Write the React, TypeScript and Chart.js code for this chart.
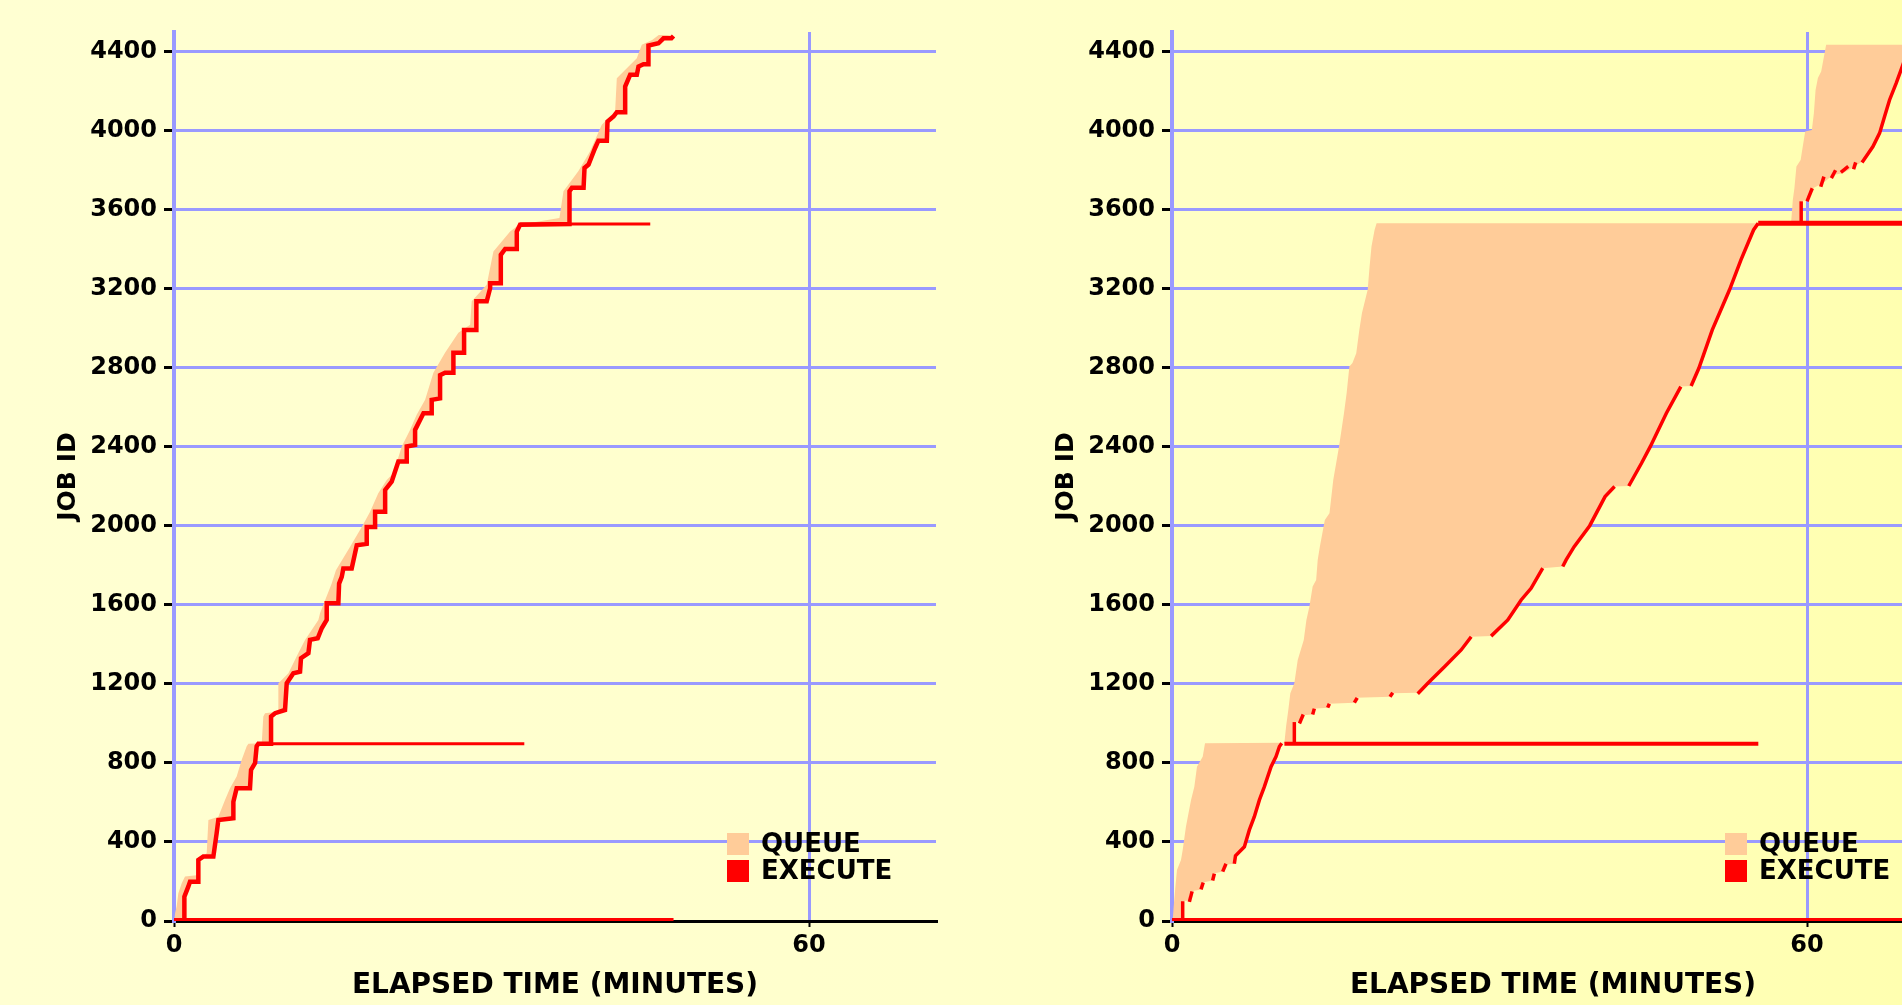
import React, { useEffect, useRef } from "react";
import Chart from "chart.js/auto";

type Pt = [number, number];

// ---------- axis values ----------
const X_MIN = 0;
const X_MAX = 72;
const X_TICKS = [0, 60];
const Y_MIN = 0;
const Y_MAX = 4500;
const Y_TICKS = [0, 400, 800, 1200, 1600, 2000, 2400, 2800, 3200, 3600, 4000, 4400];
const X_TITLE = "ELAPSED TIME (MINUTES)";
const Y_TITLE = "JOB ID";
const LEGEND_LABELS = ["QUEUE", "EXECUTE"];

// ---------- left panel (minutes, job id) ----------
const leftSubmit: Pt[] = [
  [0.03, 0], [0.1, 39], [0.25, 73], [0.41, 140], [0.73, 191], [1.04, 225], [2.14, 232], [2.3, 309],
  [3.09, 343], [3.25, 511], [4.19, 528], [4.82, 612], [5.29, 672], [5.92, 731], [6.4, 816], [6.87, 884],
  [7.03, 897], [8.29, 900], [8.44, 1035], [8.6, 1052], [9.86, 1060], [9.86, 1203], [10.18, 1220],
  [10.81, 1254], [11.75, 1356], [12.38, 1423], [13.64, 1524], [13.8, 1558], [14.1, 1600], [14.9, 1708],
  [15.3, 1775], [16.64, 1894], [17.74, 1995], [18.53, 2072], [19.3, 2165], [20.1, 2232], [20.73, 2266],
  [21.52, 2402], [22.3, 2486], [22.93, 2562], [23.73, 2638], [24.51, 2775], [25.61, 2877], [26.87, 2978],
  [27.98, 3018], [28.13, 3137], [29.55, 3220], [30.18, 3389], [31.76, 3490], [32.6, 3524], [36.42, 3558],
  [36.8, 3694], [38.2, 3795], [39.32, 3896], [40.42, 4031], [41.37, 4082], [41.68, 4097], [41.84, 4266],
  [43.73, 4367], [44.2, 4435], [45.18, 4460], [45.8, 4485], [46.6, 4485],
];

const leftStart: Pt[] = [
  [0.98, 0], [0.98, 123], [1.35, 174], [1.51, 199], [2.3, 199], [2.3, 309], [2.77, 326], [3.72, 326],
  [4.03, 444], [4.19, 511], [5.61, 520], [5.61, 604], [5.92, 672], [7.18, 672], [7.28, 765], [7.66, 799],
  [7.81, 884], [7.97, 897], [9.17, 897], [9.17, 1035], [9.55, 1052], [10.49, 1068], [10.65, 1203],
  [11.28, 1254], [11.91, 1262], [12.0, 1330], [12.7, 1356], [12.85, 1423], [13.58, 1431], [13.96, 1482],
  [14.43, 1524], [14.43, 1608], [15.53, 1608], [15.6, 1708], [15.85, 1742], [16.0, 1784], [16.79, 1784],
  [17.27, 1902], [18.21, 1909], [18.21, 1995], [19.0, 1995], [19.0, 2072], [19.95, 2072], [19.95, 2182],
  [20.57, 2224], [20.73, 2250], [21.2, 2326], [21.99, 2326], [21.99, 2402], [22.78, 2410], [22.78, 2486],
  [23.57, 2570], [24.35, 2570], [24.35, 2638], [25.14, 2645], [25.14, 2763], [25.61, 2775], [26.4, 2775],
  [26.4, 2877], [27.41, 2877], [27.41, 2992], [28.54, 2992], [28.54, 3119], [28.6, 3137], [29.55, 3137],
  [29.87, 3203], [29.87, 3228], [30.88, 3228], [30.88, 3372], [31.29, 3402], [32.39, 3402], [32.39, 3490],
  [32.7, 3524], [37.37, 3528], [37.37, 3694], [37.6, 3711], [38.7, 3711], [38.79, 3812], [39.17, 3829],
  [39.48, 3871], [39.79, 3913], [40.1, 3950], [40.9, 3950], [40.96, 4047], [41.53, 4072], [41.84, 4094],
  [42.63, 4094], [42.63, 4224], [43.1, 4283], [43.73, 4283], [43.89, 4325], [44.36, 4337], [44.83, 4337],
  [44.83, 4431], [45.78, 4443], [46.25, 4468], [47.0, 4468], [47.2, 4480],
];

const leftLongJobs: { pts: Pt[]; width: number }[] = [
  { pts: [[0, 0], [47.2, 0]], width: 6 },
  { pts: [[7.97, 897], [33.1, 897]], width: 3 },
  { pts: [[32.7, 3528], [45.0, 3528]], width: 3 },
];

// ---------- right panel (minutes, job id) ----------
const rightSubmitLow: Pt[] = [
  [0.06, 0], [0.16, 72], [0.32, 174], [0.47, 258], [0.85, 309], [1.01, 360], [1.32, 478], [1.8, 613],
  [2.11, 680], [2.36, 781], [2.9, 832], [3.12, 900], [10.62, 902], [10.78, 984], [10.99, 1068],
  [11.18, 1153], [11.56, 1203], [11.88, 1321], [12.45, 1423], [12.7, 1524], [12.98, 1591], [13.29, 1693],
  [13.62, 1726], [13.77, 1828], [13.97, 1895], [14.44, 2030], [14.88, 2064], [15.24, 2233], [15.78, 2401],
  [16.25, 2570], [16.5, 2671], [16.76, 2807], [17.05, 2824], [17.41, 2874], [17.7, 2992], [17.95, 3077],
  [18.49, 3195], [18.67, 3313], [18.85, 3414], [19.14, 3498], [19.33, 3532],
];

const rightStartLow: Pt[] = [
  [1.01, 0], [1.01, 100], [1.7, 105], [1.8, 150], [2.8, 160], [2.9, 195], [3.85, 205], [3.95, 240],
  [4.8, 250], [5.0, 285], [5.9, 290], [6.0, 330], [6.84, 376], [7.31, 461], [7.78, 528], [8.26, 613],
  [8.73, 680], [9.36, 781], [9.83, 832], [10.15, 883], [10.37, 900], [11.56, 903], [11.56, 1007],
  [12.04, 1010], [12.3, 1041], [13.29, 1045], [13.35, 1075], [14.71, 1080], [14.8, 1100], [17.23, 1105],
  [17.35, 1130], [20.7, 1135], [20.8, 1153], [23.22, 1155], [23.38, 1170], [24.17, 1203], [25.75, 1287],
  [27.32, 1372], [28.27, 1439], [30.15, 1442], [31.73, 1524], [32.99, 1625], [33.93, 1684], [35.03, 1786],
  [36.92, 1794], [37.24, 1828], [38.0, 1895], [39.47, 2001], [40.92, 2148], [41.82, 2199], [43.16, 2202],
  [44.36, 2317], [45.19, 2401], [46.71, 2570], [48.08, 2705], [49.05, 2708], [49.78, 2798], [51.05, 2992],
  [52.68, 3195], [53.76, 3347], [54.95, 3498], [55.39, 3532],
];

const rightSubmitHigh: Pt[] = [
  [58.5, 3536], [58.66, 3649], [58.81, 3709], [59.0, 3819], [59.4, 3852], [59.6, 3920], [59.83, 3996],
  [60.46, 4004], [60.65, 4089], [60.81, 4207], [61.03, 4267], [61.34, 4300], [61.66, 4393], [61.81, 4435],
];

const rightStartHigh: Pt[] = [
  [59.45, 3536], [59.45, 3643], [60.1, 3652], [60.55, 3709], [61.5, 3734], [62.44, 3776], [63.39, 3785],
  [64.49, 3819], [65.44, 3852], [66.23, 3920], [66.86, 3988], [67.33, 4072], [67.8, 4156], [68.43, 4241],
  [69.06, 4334], [69.7, 4435],
];

const rightExecute: Pt[][] = [
  [[1.01, 0], [1.01, 100]],
  [[1.64, 97], [1.9, 150]],
  [[2.74, 160], [2.95, 195]],
  [[3.84, 205], [4.0, 240]],
  [[4.79, 250], [5.1, 290]],
  [[5.89, 290], [6.0, 330], [6.84, 376], [7.31, 461], [7.78, 528], [8.26, 613], [8.73, 680], [9.36, 781],
    [9.83, 832], [10.15, 883], [10.37, 900]],
  [[11.56, 903], [11.56, 1007]],
  [[12.04, 1000], [12.4, 1045]],
  [[13.29, 1045], [13.45, 1075]],
  [[14.71, 1080], [14.87, 1100]],
  [[17.23, 1105], [17.5, 1130]],
  [[20.6, 1135], [20.86, 1155]],
  [[23.22, 1150], [24.17, 1203], [25.75, 1287], [27.32, 1372], [28.27, 1439]],
  [[30.15, 1442], [31.73, 1524], [32.99, 1625], [33.93, 1684], [35.03, 1786]],
  [[36.92, 1794], [37.24, 1828], [38.0, 1895], [39.47, 2001], [40.92, 2148], [41.82, 2199]],
  [[43.16, 2202], [44.36, 2317], [45.19, 2401], [46.71, 2570], [48.08, 2705]],
  [[49.05, 2708], [49.78, 2798], [51.05, 2992], [52.68, 3195], [53.76, 3347], [54.95, 3498], [55.39, 3532]],
  [[59.45, 3536], [59.45, 3643]],
  [[60.0, 3643], [60.5, 3709]],
  [[61.3, 3717], [61.6, 3768]],
  [[62.3, 3760], [62.7, 3800]],
  [[63.2, 3790], [63.9, 3820]],
  [[64.4, 3805], [64.6, 3840]],
  [[65.2, 3840], [66.23, 3920], [66.86, 3988], [67.33, 4072], [67.8, 4156], [68.43, 4241], [69.06, 4334],
    [69.7, 4435]],
];

const rightLongJobs: { pts: Pt[]; width: number }[] = [
  { pts: [[0, 0], [72, 0]], width: 6 },
  { pts: [[10.62, 897], [55.4, 897]], width: 4 },
  { pts: [[55.39, 3532], [72, 3532]], width: 5 },
];

// ---------- styles ----------
const QUEUE_COLOR = "#FFCC99";
const EXEC_COLOR = "#FF0000";
const GRID_COLOR = "#9999FF";
const FONT_FAMILY = '"DejaVu Sans", "Liberation Sans", Arial, sans-serif';

const toXY = (pts: Pt[]) => pts.map(([x, y]) => ({ x, y }));
const polygon = (submit: Pt[], start: Pt[]) => toXY([...submit, ...start.slice().reverse()]);

function lineDataset(pts: Pt[], width: number) {
  return {
    data: toXY(pts),
    borderColor: EXEC_COLOR,
    borderWidth: width,
    pointRadius: 0,
    fill: false,
    tension: 0,
    borderJoinStyle: "miter" as const,
  };
}

function shapeDataset(submit: Pt[], start: Pt[]) {
  return {
    data: polygon(submit, start),
    borderColor: "rgba(0,0,0,0)",
    borderWidth: 0,
    backgroundColor: QUEUE_COLOR,
    pointRadius: 0,
    fill: "shape",
    tension: 0,
  };
}

function buildConfig(datasets: any[]) {
  return {
    type: "line" as const,
    data: { datasets },
    options: {
      animation: false,
      responsive: false,
      maintainAspectRatio: false,
      events: [],
      layout: { padding: { top: 32, right: 14, bottom: 0, left: 0 } },
      plugins: { legend: { display: false }, tooltip: { enabled: false } },
      scales: {
        x: {
          type: "linear",
          min: X_MIN,
          max: X_MAX,
          afterBuildTicks: (s: any) => {
            s.ticks = X_TICKS.map((value) => ({ value }));
          },
          ticks: {
            color: "#000",
            padding: 4,
            font: { family: FONT_FAMILY, weight: "bold", size: 24 },
            callback: (v: any) => String(v),
          },
          grid: { color: GRID_COLOR, lineWidth: 3, tickColor: "#000", tickLength: 6, tickWidth: 2 },
          border: { color: "#000", width: 3 },
          title: {
            display: true,
            text: X_TITLE,
            color: "#000",
            padding: { top: 0, bottom: 2 },
            font: { family: FONT_FAMILY, weight: "bold", size: 28 },
          },
          afterFit: (s: any) => {
            s.height = 84;
          },
        },
        y: {
          type: "linear",
          min: Y_MIN,
          max: Y_MAX,
          afterBuildTicks: (s: any) => {
            s.ticks = Y_TICKS.map((value) => ({ value }));
          },
          ticks: {
            color: "#000",
            padding: 7,
            font: { family: FONT_FAMILY, weight: "bold", size: 24 },
            callback: (v: any) => String(v),
          },
          grid: { color: GRID_COLOR, lineWidth: 3, tickColor: "#000", tickLength: 10, tickWidth: 3 },
          border: { color: GRID_COLOR, width: 4 },
          title: {
            display: true,
            text: Y_TITLE,
            color: "#000",
            padding: { top: 53, bottom: 0 },
            font: { family: FONT_FAMILY, weight: "bold", size: 25 },
          },
          afterFit: (s: any) => {
            s.width = 174;
          },
        },
      },
    },
  };
}

const leftDatasets = () => [
  lineDataset(leftStart, 4.5),
  ...leftLongJobs.map((j) => lineDataset(j.pts, j.width)),
  shapeDataset(leftSubmit, leftStart),
];

const rightDatasets = () => [
  ...rightExecute.map((seg) => lineDataset(seg, 3.5)),
  ...rightLongJobs.map((j) => lineDataset(j.pts, j.width)),
  shapeDataset(rightSubmitHigh, rightStartHigh),
  shapeDataset(rightSubmitLow, rightStartLow),
];

function Legend() {
  const colors = [QUEUE_COLOR, EXEC_COLOR];
  return (
    <div style={{ position: "absolute", left: 727, top: 830 }}>
      {LEGEND_LABELS.map((label, i) => (
        <div key={label} style={{ display: "flex", alignItems: "center", height: 27 }}>
          <div style={{ width: 22, height: 22, background: colors[i], marginRight: 12 }} />
          <span
            style={{
              fontFamily: FONT_FAMILY,
              fontWeight: "bold",
              fontSize: 26,
              lineHeight: "27px",
              color: "#000",
            }}
          >
            {label}
          </span>
        </div>
      ))}
    </div>
  );
}

function Panel({ left, makeDatasets }: { left: number; makeDatasets: () => any[] }) {
  const ref = useRef<HTMLCanvasElement>(null);
  useEffect(() => {
    if (!ref.current) return;
    const chart = new Chart(ref.current, buildConfig(makeDatasets()) as any);
    return () => chart.destroy();
  }, [makeDatasets]);
  return (
    <div style={{ position: "absolute", left, top: 0, width: 950, height: 1005 }}>
      <canvas ref={ref} width={950} height={1005} style={{ display: "block", width: 950, height: 1005 }} />
      <Legend />
    </div>
  );
}

export default function App() {
  return (
    <div
      style={{
        position: "fixed",
        left: 0,
        top: 0,
        width: 1902,
        height: 1005,
        overflow: "hidden",
        background: "linear-gradient(90deg, #FFFFD2 0%, #FFFFCC 50%, #FFFFB0 100%)",
      }}
    >
      <Panel left={0} makeDatasets={leftDatasets} />
      <Panel left={998} makeDatasets={rightDatasets} />
    </div>
  );
}
